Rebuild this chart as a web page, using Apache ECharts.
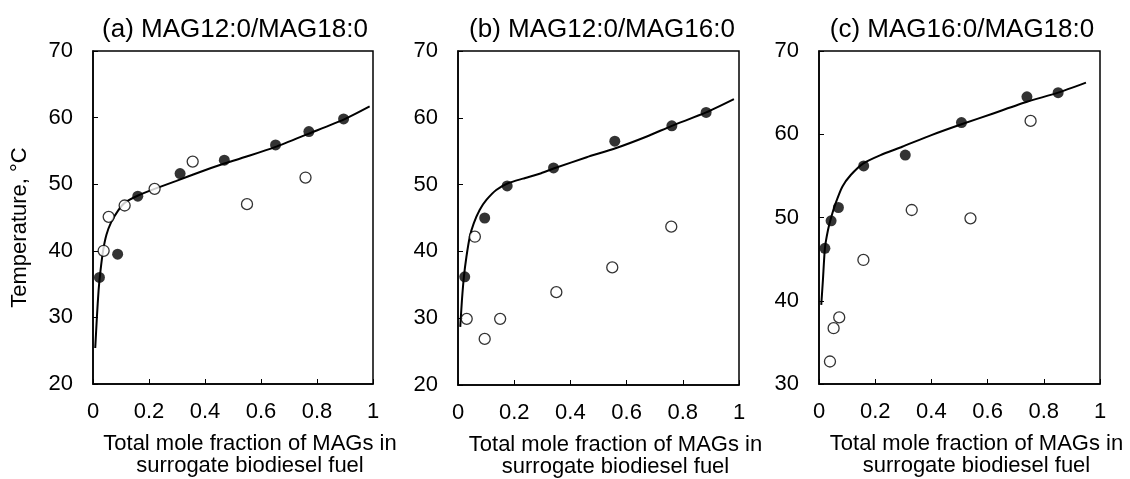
<!DOCTYPE html>
<html><head><meta charset="utf-8">
<script src="https://cdn.jsdelivr.net/npm/echarts@6/dist/echarts.min.js"></script>
<style>html,body{margin:0;padding:0;background:#fff}#c{width:1130px;height:479px}</style>
</head><body><div id="c"></div>
<script>
const titles = ['(a) MAG12:0/MAG18:0', '(b) MAG12:0/MAG16:0', '(c) MAG16:0/MAG18:0'];
const xName = 'Total mole fraction of MAGs in\nsurrogate biodiesel fuel';
const yName = 'Temperature, °C';
const yMins = [20, 20, 30];
const yMaxs = [70, 70, 70];

// Panel (a)
const aFilledX = [0.023, 0.088, 0.160, 0.311, 0.469, 0.652, 0.771, 0.895];
const aFilledY = [36.0, 39.5, 48.2, 51.6, 53.6, 55.9, 57.9, 59.8];
const aOpenX = [0.038, 0.056, 0.113, 0.220, 0.356, 0.550, 0.759];
const aOpenY = [40.0, 45.1, 46.8, 49.3, 53.4, 47.0, 51.0];
const aFitX = [0.008, 0.014, 0.020, 0.027, 0.036, 0.048, 0.065, 0.089, 0.113, 0.161, 0.220, 0.298, 0.380, 0.469, 0.560, 0.652, 0.771, 0.895, 0.988];
const aFitY = [25.4, 30.1, 34.1, 37.1, 40.0, 42.4, 44.3, 46.0, 47.2, 48.3, 49.3, 50.5, 51.8, 53.1, 54.3, 55.6, 57.6, 59.7, 61.7];

// Panel (b)
const bFilledX = [0.024, 0.095, 0.175, 0.340, 0.558, 0.761, 0.883];
const bFilledY = [36.2, 45.0, 49.8, 52.5, 56.5, 58.8, 60.8];
const bOpenX = [0.031, 0.060, 0.095, 0.150, 0.350, 0.549, 0.759];
const bOpenY = [29.9, 42.2, 26.9, 29.9, 33.9, 37.6, 43.7];
const bFitX = [0.008, 0.014, 0.021, 0.030, 0.042, 0.056, 0.077, 0.101, 0.136, 0.178, 0.231, 0.296, 0.340, 0.458, 0.558, 0.672, 0.761, 0.883, 0.982];
const bFitY = [28.7, 32.7, 36.2, 39.2, 42.2, 44.2, 46.2, 47.7, 49.2, 50.2, 50.9, 51.7, 52.4, 54.1, 55.4, 57.2, 58.8, 60.8, 62.8];

// Panel (c)
const cFilledX = [0.021, 0.043, 0.069, 0.159, 0.307, 0.507, 0.740, 0.851];
const cFilledY = [46.3, 49.6, 51.2, 56.2, 57.5, 61.4, 64.5, 65.0];
const cOpenX = [0.039, 0.052, 0.072, 0.158, 0.330, 0.539, 0.753];
const cOpenY = [32.7, 36.7, 38.0, 44.9, 50.9, 49.9, 61.6];
const cFitX = [0.008, 0.014, 0.021, 0.032, 0.044, 0.059, 0.083, 0.113, 0.158, 0.219, 0.296, 0.400, 0.507, 0.620, 0.740, 0.851, 0.950];
const cFitY = [39.5, 42.5, 46.3, 48.5, 50.1, 51.7, 53.7, 55.1, 56.5, 57.5, 58.5, 59.9, 61.2, 62.5, 63.9, 65.0, 66.2];

const FONT = 'Liberation Sans, Arial, sans-serif';
const zip = (xs, ys) => xs.map((x, i) => [x, ys[i]]);

const grids = [
  {left: 93, top: 51, width: 280, height: 333},
  {left: 458, top: 51, width: 281, height: 334},
  {left: 819, top: 51, width: 281, height: 333}
];
const titleCenters = [230, 597, 957];

const panels = [
  [aFilledX, aFilledY, aOpenX, aOpenY, aFitX, aFitY],
  [bFilledX, bFilledY, bOpenX, bOpenY, bFitX, bFitY],
  [cFilledX, cFilledY, cOpenX, cOpenY, cFitX, cFitY]
];

const option = {
  backgroundColor: '#fff',
  animation: false,
  title: titles.map((t, i) => ({
    text: t, left: titleCenters[i], top: 11, textAlign: 'center',
    textStyle: {fontFamily: FONT, fontSize: 26, fontWeight: 'normal', color: '#000', lineHeight: 28}
  })),
  grid: grids.map(g => Object.assign({show: true, borderColor: '#000', borderWidth: 1.5,
    backgroundColor: 'transparent', containLabel: false, outerBoundsMode: 'none'}, g)),
  xAxis: grids.map((g, i) => ({
    type: 'value', gridIndex: i, min: 0, max: 1, interval: 0.2,
    name: xName, nameLocation: 'middle', nameGap: 49,
    nameTextStyle: {fontFamily: FONT, fontSize: 22, color: '#000', lineHeight: 22, padding: [0, 0, 0, 34]},
    axisLine: {show: true, lineStyle: {color: '#000', width: 1.5}},
    axisTick: {show: true, inside: true, length: 5, lineStyle: {color: '#000', width: 1}},
    splitLine: {show: false},
    axisLabel: {fontFamily: FONT, fontSize: 22, color: '#000', margin: 17,
      formatter: v => String(Math.round(v * 10) / 10)}
  })),
  yAxis: grids.map((g, i) => ({
    type: 'value', gridIndex: i, min: yMins[i], max: yMaxs[i], interval: 10,
    name: i === 0 ? yName : '', nameLocation: 'middle', nameGap: 62, nameRotate: 90,
    nameTextStyle: {fontFamily: FONT, fontSize: 22, color: '#000', padding: [0, 20, 0, 0]},
    axisLine: {show: true, lineStyle: {color: '#000', width: 1.5}},
    axisTick: {show: true, inside: true, length: 5, lineStyle: {color: '#000', width: 1}},
    splitLine: {show: false},
    axisLabel: {fontFamily: FONT, fontSize: 22, color: '#000', margin: 20}
  })),
  series: []
};

panels.forEach((p, i) => {
  option.series.push({
    type: 'line', xAxisIndex: i, yAxisIndex: i, data: zip(p[4], p[5]),
    smooth: 0.2, showSymbol: false, symbol: 'none', z: 2,
    lineStyle: {color: '#000', width: 2}
  });
  option.series.push({
    type: 'scatter', xAxisIndex: i, yAxisIndex: i, data: zip(p[2], p[3]),
    symbol: 'circle', symbolSize: 11, z: 3,
    itemStyle: {color: '#fff', borderColor: '#000', borderWidth: 1.3}
  });
  option.series.push({
    type: 'scatter', xAxisIndex: i, yAxisIndex: i, data: zip(p[0], p[1]),
    symbol: 'circle', symbolSize: 11, z: 4,
    itemStyle: {color: '#000', borderColor: '#000', borderWidth: 0}
  });
});

const chart = echarts.init(document.getElementById('c'), null, {renderer: 'canvas'});
chart.setOption(option);
</script>
</body></html>
